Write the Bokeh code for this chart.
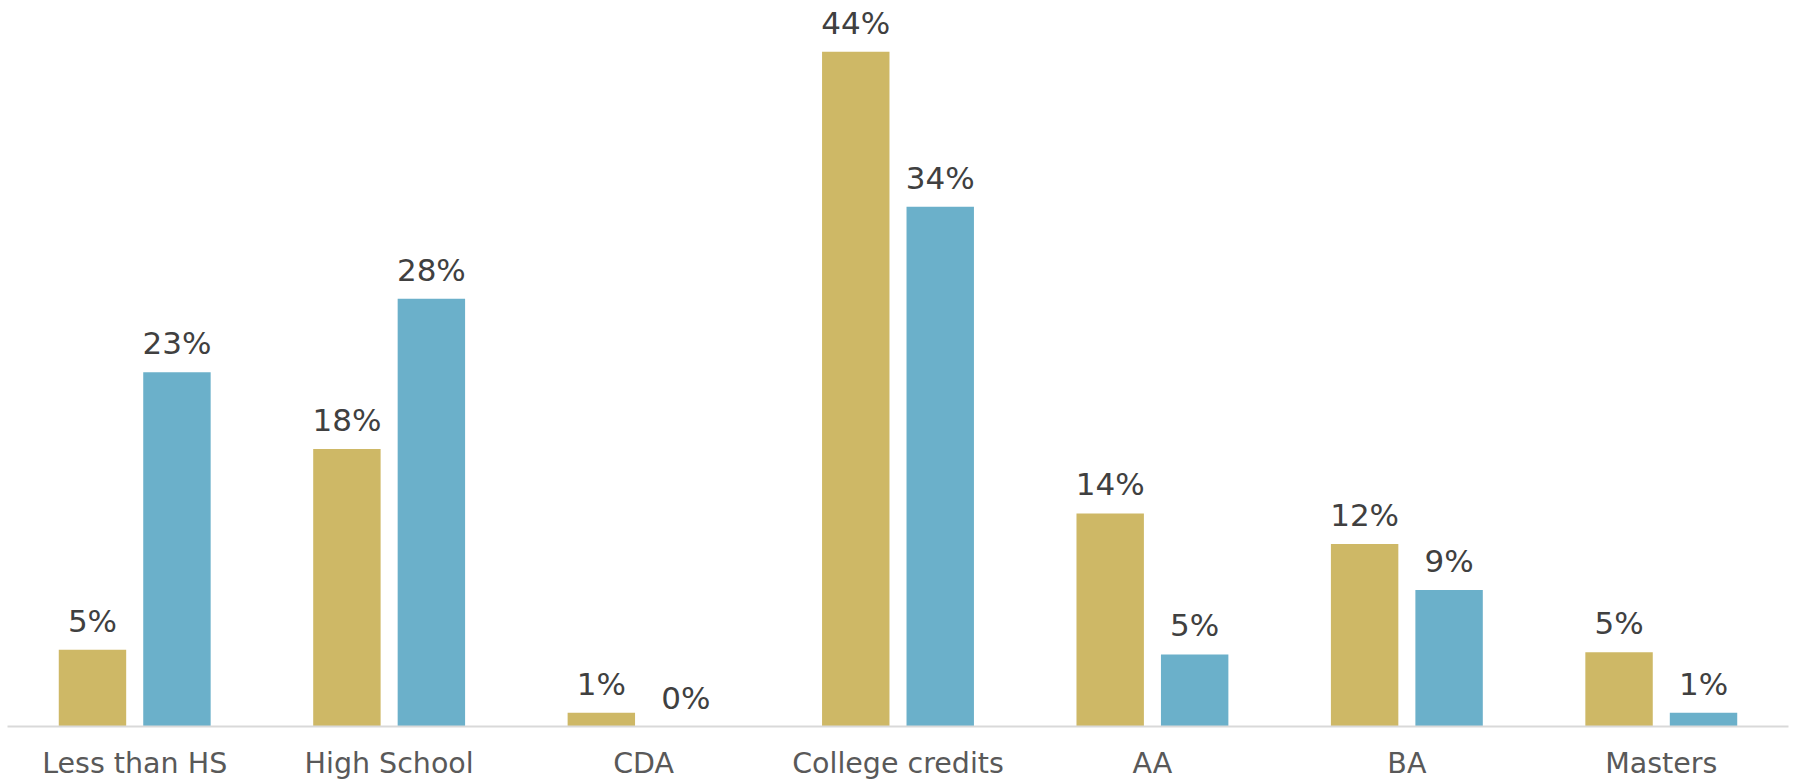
from bokeh.plotting import figure
from bokeh.models import ColumnDataSource, FactorRange, LabelSet, Range1d
from bokeh.transform import dodge
from bokeh.core.properties import value
from bokeh.embed import file_html
from bokeh.resources import INLINE

categories = ["Less than HS", "High School", "CDA", "College credits", "AA", "BA", "Masters"]
series_a = [5.0, 18.1, 0.9, 44.0, 13.9, 11.9, 4.85]
series_b = [23.1, 27.9, 0.0, 33.9, 4.7, 8.9, 0.9]
labels_a = ["5%", "18%", "1%", "44%", "14%", "12%", "5%"]
labels_b = ["23%", "28%", "0%", "34%", "5%", "9%", "1%"]

GOLD = "#CEB866"
BLUE = "#6BB0CA"

src = ColumnDataSource(data=dict(cat=categories, a=series_a, b=series_b,
                                 la=labels_a, lb=labels_b))

p = figure(width=1790, height=782, x_range=FactorRange(*categories, range_padding=0),
           y_range=Range1d(0, 47.35), output_backend="svg", toolbar_location=None,
           min_border_left=7, min_border_right=2, min_border_top=0, min_border_bottom=40)

p.vbar(x=dodge("cat", -0.166, range=p.x_range), top="a", width=0.265, source=src,
       fill_color=GOLD, line_color=None)
p.vbar(x=dodge("cat", 0.166, range=p.x_range), top="b", width=0.265, source=src,
       fill_color=BLUE, line_color=None)

for col, lab, off in (("a", "la", -0.166), ("b", "lb", 0.166)):
    ls = LabelSet(x=dodge("cat", off, range=p.x_range), y=col, text=lab, source=src,
                  text_align="center", text_baseline="alphabetic", y_offset=18,
                  text_font=value("DejaVu Sans"), text_font_size=value("31px"),
                  text_color="#404040")
    p.add_layout(ls)

p.yaxis.visible = False
p.xgrid.visible = False
p.ygrid.visible = False
p.outline_line_color = None
p.xaxis.axis_line_color = "#D9D9D9"
p.xaxis.axis_line_width = 2
p.xaxis.major_tick_line_color = None
p.xaxis.minor_tick_line_color = None
p.xaxis.major_tick_out = 0
p.xaxis.major_label_standoff = 20
p.xaxis.major_label_text_font = "DejaVu Sans"
p.xaxis.major_label_text_font_size = "28.5px"
p.xaxis.major_label_text_color = "#595959"
p.xaxis.major_label_text_font_style = "normal"

open("out.html", "w").write(file_html(p, INLINE))
